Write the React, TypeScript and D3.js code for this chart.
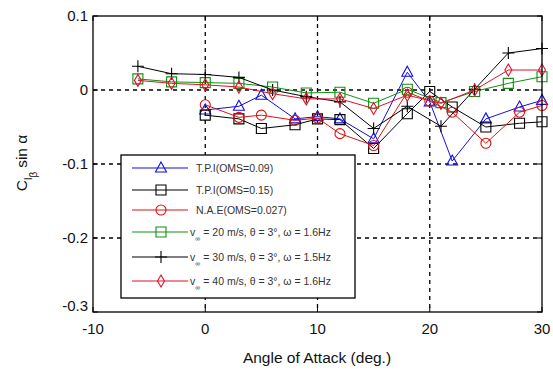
import React from "react";
import * as d3 from "d3";

const xTicks = [-10, 0, 10, 20, 30];
const yTicks = [-0.3, -0.2, -0.1, 0, 0.1];
const gridX = [0, 10, 20];
const gridY = [-0.2, -0.1, 0];

const aoaTPI = [0, 3, 5, 8, 10, 12, 15, 18, 20, 22, 25, 28, 30];
const tpi09 = [-0.027, -0.022, -0.007, -0.039, -0.036, -0.039, -0.066, 0.024, -0.016, -0.096, -0.039, -0.023, -0.014];
const tpi15 = [-0.034, -0.039, -0.052, -0.047, -0.039, -0.04, -0.079, -0.032, -0.002, -0.023, -0.05, -0.045, -0.043];
const nae = [-0.02, -0.037, -0.034, -0.041, -0.038, -0.059, -0.075, -0.003, -0.015, -0.03, -0.072, -0.03, -0.021];

const aoaTest = [-6, -3, 0, 3, 6, 9, 12, 15, 18, 21, 24, 27, 30];
const v20 = [0.015, 0.011, 0.01, 0.009, 0.004, -0.004, -0.003, -0.018, 0.001, -0.017, -0.002, 0.009, 0.018];
const v30 = [0.032, 0.022, 0.021, 0.017, 0.0, -0.009, -0.016, -0.052, -0.022, -0.049, 0.001, 0.05, 0.056];
const v40 = [0.013, 0.009, 0.007, 0.004, -0.005, -0.012, -0.012, -0.025, -0.007, -0.018, 0.0, 0.027, 0.027];

const legendLabels = [
  "T.P.I(OMS=0.09)",
  "T.P.I(OMS=0.15)",
  "N.A.E(OMS=0.027)",
  "= 20 m/s, \u03b8 = 3\u00b0, \u03c9 = 1.6Hz",
  "= 30 m/s, \u03b8 = 3\u00b0, \u03c9 = 1.5Hz",
  "= 40 m/s, \u03b8 = 3\u00b0, \u03c9 = 1.6Hz",
];

type Marker = "tri" | "sq" | "circ" | "plus" | "diam";

const series = [
  { x: aoaTPI, y: tpi09, color: "#1010e0", marker: "tri" as Marker },
  { x: aoaTPI, y: tpi15, color: "#000000", marker: "sq" as Marker },
  { x: aoaTPI, y: nae, color: "#e01010", marker: "circ" as Marker },
  { x: aoaTest, y: v20, color: "#109010", marker: "sq" as Marker },
  { x: aoaTest, y: v30, color: "#000000", marker: "plus" as Marker },
  { x: aoaTest, y: v40, color: "#e0102a", marker: "diam" as Marker },
];

function markerPath(m: Marker, cx: number, cy: number): string {
  switch (m) {
    case "tri":
      return `M${cx},${cy - 6}L${cx + 5.5},${cy + 4}L${cx - 5.5},${cy + 4}Z`;
    case "sq":
      return `M${cx - 5},${cy - 5}h10v10h-10Z`;
    case "circ":
      return `M${cx - 5},${cy}a5,5 0 1,0 10,0a5,5 0 1,0 -10,0`;
    case "plus":
      return `M${cx - 6},${cy}h12M${cx},${cy - 6}v12`;
    case "diam":
      return `M${cx},${cy - 6}L${cx + 3.5},${cy}L${cx},${cy + 6}L${cx - 3.5},${cy}Z`;
  }
}

export default function App() {
  const W = 553;
  const H = 371;
  const x = d3.scaleLinear().domain([-10, 30]).range([93, 542]);
  const y = d3.scaleLinear().domain([-0.3, 0.1]).range([312, 16]);
  const line = d3.line<[number, number]>().x((d) => x(d[0])).y((d) => y(d[1]));

  const lg = { x0: 121, y0: 155, x1: 355, y1: 298 };
  const rowY = [168, 190, 210, 232, 257, 281];

  return (
    <div style={{ position: "absolute", left: 0, top: 0 }}>
      <svg width={W} height={H} style={{ display: "block", background: "#fff" }} fontFamily="Arial, 'Liberation Sans', sans-serif">
        <rect x={0} y={0} width={W} height={H} fill="#fff" />
        {gridX.map((v) => (
          <line key={"gx" + v} x1={x(v)} x2={x(v)} y1={y(0.1)} y2={y(-0.3)} stroke="#000" strokeWidth={1.3} strokeDasharray="4,4" />
        ))}
        {gridY.map((v) => (
          <line key={"gy" + v} x1={x(-10)} x2={x(30)} y1={y(v)} y2={y(v)} stroke="#000" strokeWidth={1.3} strokeDasharray="4,4" />
        ))}
        {xTicks.map((v) => (
          <g key={"tx" + v}>
            <line x1={x(v)} x2={x(v)} y1={y(-0.3)} y2={y(-0.3) - 5} stroke="#000" />
            <line x1={x(v)} x2={x(v)} y1={y(0.1)} y2={y(0.1) + 5} stroke="#000" />
            <text x={x(v)} y={334} fontSize={15} textAnchor="middle" fill="#111">{v}</text>
          </g>
        ))}
        {yTicks.map((v) => (
          <g key={"ty" + v}>
            <line x1={x(-10)} x2={x(-10) + 5} y1={y(v)} y2={y(v)} stroke="#000" />
            <line x1={x(30)} x2={x(30) - 5} y1={y(v)} y2={y(v)} stroke="#000" />
            <text x={88} y={v === -0.3 ? y(v) - 1 : y(v) + 5} fontSize={15} textAnchor="end" fill="#111">{v === 0 ? "0" : String(v)}</text>
          </g>
        ))}
        {series.map((s, i) => (
          <g key={"s" + i}>
            <path d={line(s.x.map((xv, j) => [xv, s.y[j]] as [number, number])) || ""} fill="none" stroke={s.color} strokeWidth={1} />
            {s.x.map((xv, j) => (
              <path key={j} d={markerPath(s.marker, x(xv), y(s.y[j]))} fill="none" stroke={s.color} strokeWidth={1.1} />
            ))}
          </g>
        ))}
        <rect x={x(-10)} y={y(0.1)} width={x(30) - x(-10)} height={y(-0.3) - y(0.1)} fill="none" stroke="#000" strokeWidth={1.3} />
        <rect x={lg.x0} y={lg.y0} width={lg.x1 - lg.x0} height={lg.y1 - lg.y0} fill="#fff" stroke="#000" strokeWidth={1.3} />
        {series.map((s, i) => (
          <g key={"l" + i}>
            <line x1={132} x2={188} y1={rowY[i]} y2={rowY[i]} stroke={s.color} strokeWidth={1.2} />
            <path d={markerPath(s.marker, 161, rowY[i])} fill="none" stroke={s.color} strokeWidth={1.1} />
            {i < 3 ? (
              <text x={196} y={rowY[i] + 4} fontSize={10.5} fill="#333">{legendLabels[i]}</text>
            ) : (
              <text x={190} y={rowY[i] + 4} fontSize={10.5} fill="#333">
                v<tspan dy={5} fontSize={7}>{"\u221e"}</tspan>
                <tspan dy={-5} dx={3}>{legendLabels[i]}</tspan>
              </text>
            )}
          </g>
        ))}
        <text x={317} y={363} fontSize={15.5} textAnchor="middle" fill="#111">Angle of Attack (deg.)</text>
        <text transform="translate(27,163) rotate(-90)" fontSize={15.5} textAnchor="middle" fill="#111">
          C<tspan fontSize={11} dy={5}>l</tspan>
          <tspan fontSize={10} dy={5}>{"\u03b2"}</tspan>
          <tspan dy={-10} dx={4}>sin {"\u03b1"}</tspan>
        </text>
      </svg>
    </div>
  );
}
